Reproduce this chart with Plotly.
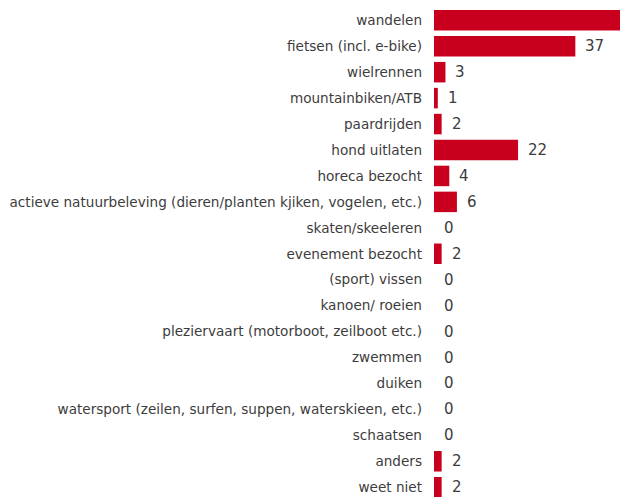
import plotly.graph_objects as go

categories = [
    "wandelen",
    "fietsen (incl. e-bike)",
    "wielrennen",
    "mountainbiken/ATB",
    "paardrijden",
    "hond uitlaten",
    "horeca bezocht",
    "actieve natuurbeleving (dieren/planten kjiken, vogelen, etc.)",
    "skaten/skeeleren",
    "evenement bezocht",
    "(sport) vissen",
    "kanoen/ roeien",
    "pleziervaart (motorboot, zeilboot etc.)",
    "zwemmen",
    "duiken",
    "watersport (zeilen, surfen, suppen, waterskieen, etc.)",
    "schaatsen",
    "anders",
    "weet niet",
]
values = [65, 37, 3, 1, 2, 22, 4, 6, 0, 2, 0, 0, 0, 0, 0, 0, 0, 2, 2]

BAR = "#C8001E"
TXT = "#3c3c3c"
FONT = "DejaVu Sans"

fig = go.Figure()
fig.add_trace(go.Bar(
    x=values, y=categories, orientation="h",
    marker=dict(color=BAR, line=dict(width=0)),
    hoverinfo="skip",
))

for c, v in zip(categories, values):
    fig.add_annotation(
        x=v, y=c, text=str(v), showarrow=False,
        xanchor="left", xshift=8, yanchor="middle",
        font=dict(family=FONT, size=15, color=TXT),
    )

fig.update_layout(
    width=620, height=497,
    margin=dict(l=434, r=0, t=0, b=0, autoexpand=False),
    paper_bgcolor="white", plot_bgcolor="white",
    showlegend=False,
    bargap=0.21,
    font=dict(family=FONT, size=13.6, color=TXT),
)
fig.update_xaxes(range=[0, 186 / 3.82], showgrid=False, zeroline=False,
                 showticklabels=False, showline=False, fixedrange=True,
                 automargin=False)
fig.update_yaxes(type="category", range=[18.377, -0.783], showgrid=False,
                 zeroline=False, showline=False, ticks="",
                 ticklabelstandoff=11, automargin=False,
                 tickfont=dict(family=FONT, size=13.6, color=TXT))

fig.write_html(
    "out.html",
    config={"displayModeBar": False, "staticPlot": True},
    post_script="document.body.style.margin='0';document.body.style.overflow='hidden';",
)
